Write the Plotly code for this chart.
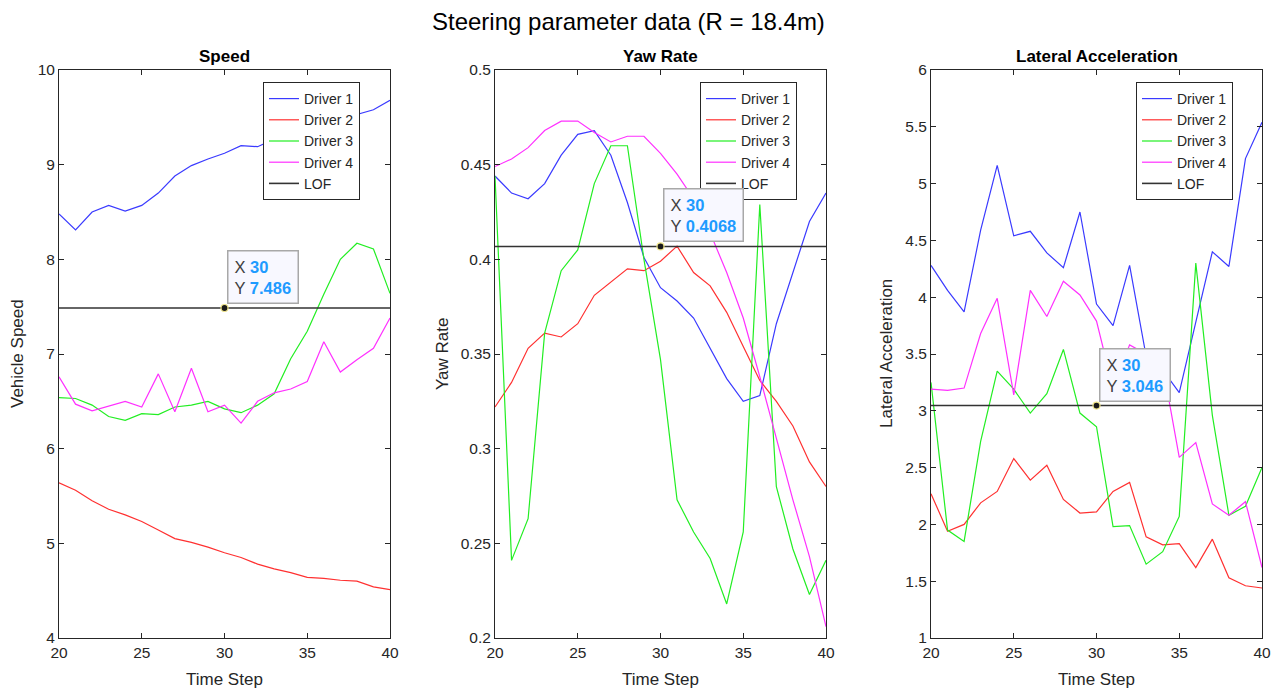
import plotly.graph_objects as go

# ---------------- data ----------------
time_step = [20, 21, 22, 23, 24, 25, 26, 27, 28, 29, 30, 31, 32, 33, 34, 35, 36, 37, 38, 39, 40]
drivers = ["Driver 1", "Driver 2", "Driver 3", "Driver 4"]

speed_d1 = [8.48, 8.31, 8.50, 8.57, 8.51, 8.57, 8.70, 8.88, 8.99, 9.06, 9.12, 9.20, 9.19, 9.27, 9.33, 9.38, 9.43, 9.48, 9.53, 9.58, 9.68]
speed_d2 = [5.64, 5.56, 5.45, 5.36, 5.30, 5.23, 5.14, 5.05, 5.01, 4.96, 4.90, 4.85, 4.78, 4.73, 4.69, 4.64, 4.63, 4.61, 4.60, 4.54, 4.51]
speed_d3 = [6.54, 6.53, 6.46, 6.34, 6.30, 6.37, 6.36, 6.44, 6.46, 6.50, 6.42, 6.38, 6.46, 6.58, 6.95, 7.24, 7.63, 8.00, 8.17, 8.11, 7.64]
speed_d4 = [6.76, 6.47, 6.40, 6.45, 6.50, 6.44, 6.79, 6.39, 6.85, 6.39, 6.46, 6.27, 6.50, 6.59, 6.63, 6.71, 7.13, 6.81, 6.94, 7.06, 7.38]

yaw_d1 = [0.444, 0.435, 0.432, 0.440, 0.455, 0.466, 0.468, 0.455, 0.430, 0.401, 0.385, 0.378, 0.369, 0.353, 0.337, 0.325, 0.328, 0.366, 0.393, 0.420, 0.435]
yaw_d2 = [0.322, 0.335, 0.353, 0.361, 0.359, 0.366, 0.381, 0.388, 0.395, 0.394, 0.399, 0.407, 0.393, 0.386, 0.372, 0.354, 0.336, 0.325, 0.312, 0.293, 0.280]
yaw_d3 = [0.444, 0.241, 0.263, 0.361, 0.394, 0.405, 0.440, 0.460, 0.460, 0.400, 0.347, 0.273, 0.256, 0.242, 0.218, 0.256, 0.429, 0.280, 0.247, 0.223, 0.241]
yaw_d4 = [0.449, 0.453, 0.459, 0.468, 0.473, 0.473, 0.467, 0.462, 0.465, 0.465, 0.456, 0.445, 0.432, 0.414, 0.393, 0.369, 0.338, 0.305, 0.273, 0.243, 0.206]

lat_d1 = [4.28, 4.06, 3.87, 4.59, 5.16, 4.54, 4.58, 4.39, 4.26, 4.75, 3.94, 3.75, 4.28, 3.48, 3.36, 3.16, 3.78, 4.40, 4.27, 5.22, 5.54]
lat_d2 = [2.27, 1.94, 2.00, 2.19, 2.29, 2.58, 2.39, 2.52, 2.22, 2.10, 2.11, 2.29, 2.37, 1.89, 1.82, 1.83, 1.62, 1.87, 1.53, 1.46, 1.44]
lat_d3 = [3.25, 1.95, 1.85, 2.73, 3.35, 3.19, 2.98, 3.15, 3.54, 2.98, 2.86, 1.98, 1.99, 1.65, 1.76, 2.07, 4.30, 2.96, 2.08, 2.16, 2.50]
lat_d4 = [3.19, 3.18, 3.20, 3.68, 3.99, 3.14, 4.06, 3.83, 4.14, 4.02, 3.79, 3.20, 3.58, 3.50, 3.40, 2.59, 2.72, 2.18, 2.08, 2.20, 1.62]

lof_values = [7.486, 0.4068, 3.046]
datatip_x = 30
datatip_text = ["7.486", "0.4068", "3.046"]

panel_titles = ["Speed", "Yaw Rate", "Lateral Acceleration"]
x_title = "Time Step"
y_titles = ["Vehicle Speed", "Yaw Rate", "Lateral Acceleration"]
y_ranges = [[4, 10], [0.2, 0.5], [1, 6]]
y_dticks = [1, 0.05, 0.5]
x_ticks = [20, 25, 30, 35, 40]

# ---------------- styling ----------------
W, H = 1276, 690
FONT = "Arial, 'Liberation Sans', sans-serif"
AX = "#262626"
colors = ["#3a3aff", "#ff3030", "#22ee22", "#ff30ff"]
lof_color = "#333333"
panel_px = [(59, 390), (495, 826), (931, 1262)]
plot_top, plot_bot = 70, 638
legend_left_px = [263, 700, 1136]
ylabel_x_px = [17, 442, 886]

series = [
    [speed_d1, speed_d2, speed_d3, speed_d4],
    [yaw_d1, yaw_d2, yaw_d3, yaw_d4],
    [lat_d1, lat_d2, lat_d3, lat_d4],
]

fig = go.Figure()
layout = dict(
    width=W, height=H, autosize=False,
    margin=dict(l=0, r=0, t=0, b=0, pad=0, autoexpand=False),
    paper_bgcolor="white", plot_bgcolor="white",
    font=dict(family=FONT, color=AX, size=14),
    annotations=[],
)

for p in range(3):
    sfx = "" if p == 0 else str(p + 1)
    xa, ya = "x" + sfx, "y" + sfx
    leg = "legend" + sfx
    for d in range(4):
        fig.add_trace(go.Scatter(
            x=time_step, y=series[p][d], mode="lines", name=drivers[d],
            line=dict(color=colors[d], width=1.2),
            xaxis=xa, yaxis=ya, legend=leg, hoverinfo="skip"))
    fig.add_trace(go.Scatter(
        x=[time_step[0], time_step[-1]], y=[lof_values[p], lof_values[p]],
        mode="lines", name="LOF", line=dict(color=lof_color, width=1.6),
        xaxis=xa, yaxis=ya, legend=leg, hoverinfo="skip"))
    fig.add_trace(go.Scatter(
        x=[datatip_x], y=[lof_values[p]], mode="markers", showlegend=False,
        marker=dict(color="#1a1a1a", size=7, line=dict(color="#f0e68c", width=1.2)),
        xaxis=xa, yaxis=ya, hoverinfo="skip"))

    x0, x1 = panel_px[p]
    layout["xaxis" + sfx] = dict(
        domain=[x0 / W, x1 / W], anchor=ya, range=[20, 40], automargin=False,
        tickvals=x_ticks, ticks="inside", ticklen=5, tickcolor=AX,
        showline=True, linecolor=AX, linewidth=1, mirror="ticks",
        showgrid=False, zeroline=False,
        tickfont=dict(size=15.5, color=AX),
    )
    layout["yaxis" + sfx] = dict(
        domain=[1 - plot_bot / H, 1 - plot_top / H], anchor=xa, automargin=False,
        range=y_ranges[p], dtick=y_dticks[p], tick0=y_ranges[p][0],
        ticks="inside", ticklen=5, tickcolor=AX,
        showline=True, linecolor=AX, linewidth=1, mirror="ticks",
        showgrid=False, zeroline=False,
        tickfont=dict(size=15.5, color=AX),
    )
    layout[leg] = dict(
        x=legend_left_px[p] / W, y=1 - 82 / H, xanchor="left", yanchor="top",
        bordercolor=AX, borderwidth=1, bgcolor="white",
        font=dict(size=14, color=AX), tracegroupgap=0,
    )
    # panel title
    layout["annotations"].append(dict(
        text="<b>" + panel_titles[p] + "</b>", xref="paper", yref="paper",
        x=(x0 + x1) / 2 / W, y=1 - 57 / H, xanchor="center", yanchor="middle",
        showarrow=False, font=dict(size=17, color="black")))
    # x axis title
    layout["annotations"].append(dict(
        text=x_title, xref="paper", yref="paper",
        x=(x0 + x1) / 2 / W, y=1 - 679 / H, xanchor="center", yanchor="middle",
        showarrow=False, font=dict(size=17, color=AX)))
    # y axis title
    layout["annotations"].append(dict(
        text=y_titles[p], xref="paper", yref="paper", textangle=-90,
        x=ylabel_x_px[p] / W, y=1 - (plot_top + plot_bot) / 2 / H,
        xanchor="center", yanchor="middle", showarrow=False,
        font=dict(size=17, color=AX)))
    # datatip
    layout["annotations"].append(dict(
        text=("X <b><span style='color:#1e9bff'>" + str(datatip_x) + "</span></b><br>"
              "Y <b><span style='color:#1e9bff'>" + datatip_text[p] + "</span></b>"),
        xref=xa, yref=ya, x=datatip_x, y=lof_values[p],
        xanchor="left", yanchor="bottom", xshift=2, yshift=4, align="left",
        showarrow=False, bgcolor="#f8f8ff", bordercolor="#a8a8a8",
        borderwidth=1.5, borderpad=6, font=dict(size=16.5, color="#404040")))

layout["annotations"].append(dict(
    text="Steering parameter data (R = 18.4m)", xref="paper", yref="paper",
    x=628 / W, y=1 - 22 / H, xanchor="center", yanchor="middle",
    showarrow=False, font=dict(size=24, color="black")))

fig.update_layout(**layout)
fig.write_html(
    "out.html",
    config={"displayModeBar": False},
    post_script="document.body.style.margin='0px';document.body.style.overflow='hidden';",
)
